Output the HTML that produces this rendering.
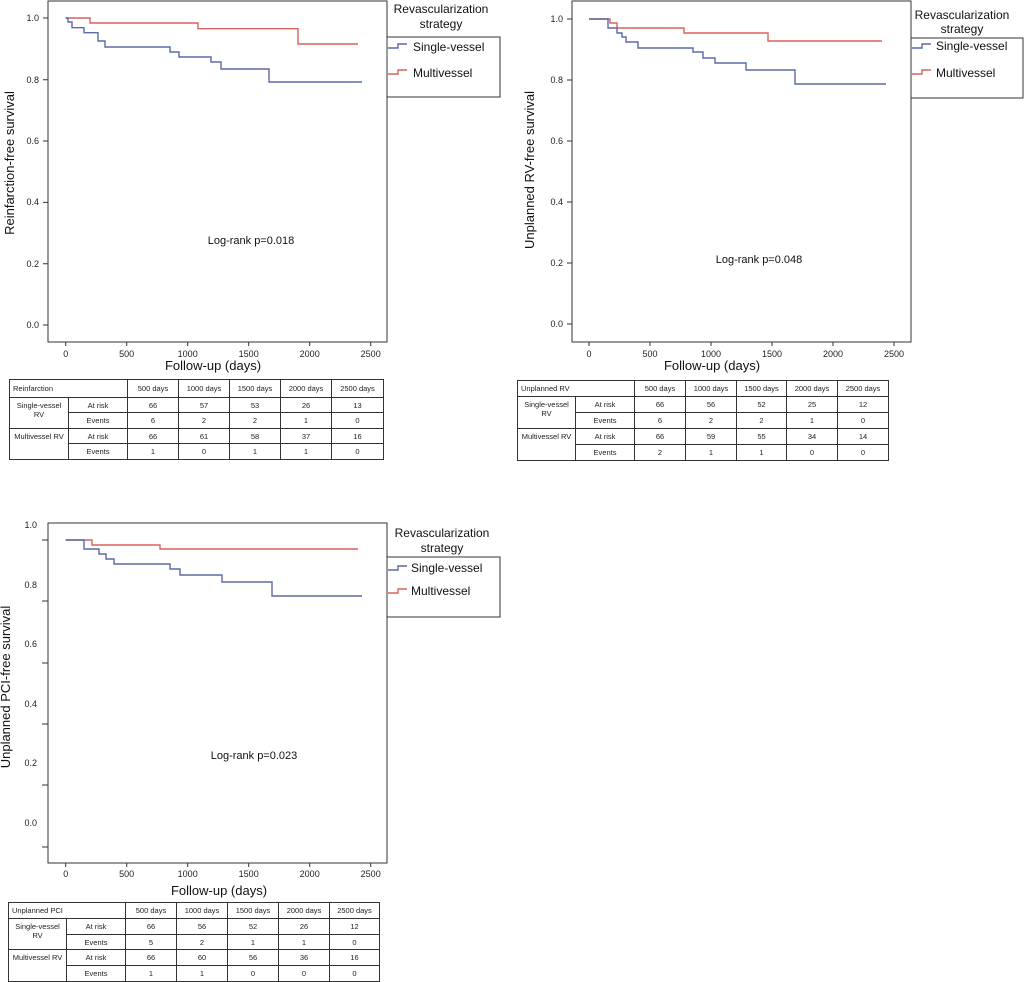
<!DOCTYPE html>
<html><head><meta charset="utf-8"><style>
body{margin:0;background:#fff;width:1024px;height:981px;overflow:hidden;position:relative;font-family:"Liberation Sans",Arial,sans-serif}
svg{position:absolute;left:0;top:0}
table{position:absolute;border-collapse:collapse;font-size:7.5px;color:#222;table-layout:fixed}
td{border:1px solid #333;text-align:center;padding:0;line-height:9px}
td.l{text-align:left;padding-left:3px}
td.t{vertical-align:top;padding-top:3px}
</style></head><body>
<svg width="1024" height="981" font-family="Liberation Sans, Arial, sans-serif">
<g fill="none" stroke="#333" stroke-width="1">
<!-- panel 1 -->
<rect x="48" y="1" width="339" height="341"/>
<path d="M43 18H48M43 79.7H48M43 141H48M43 202.4H48M43 263.7H48M43 325H48"/>
<path d="M65.7 342v4M126.7 342v4M187.7 342v4M248.7 342v4M309.7 342v4M370.7 342v4"/>
<rect x="387" y="37" width="113" height="60"/>
<!-- panel 2 -->
<rect x="572" y="1" width="339" height="341"/>
<path d="M567 19H572M567 80H572M567 141H572M567 202H572M567 263H572M567 324H572"/>
<path d="M589 342v4M650 342v4M711 342v4M772 342v4M833 342v4M894 342v4"/>
<rect x="911" y="38" width="112" height="60"/>
<!-- panel 3 -->
<rect x="48" y="523" width="339" height="340"/>
<path d="M42 540H48M42 601H48M42 663H48M42 724H48M42 785H48M42 847H48"/>
<path d="M65.7 863v4M126.7 863v4M187.7 863v4M248.7 863v4M309.7 863v4M370.7 863v4"/>
<rect x="387" y="557" width="113" height="60"/>
</g>
<g fill="none" stroke-width="1.4">
<path stroke="#d9625f" d="M65.7 18H90V23H198V28.7H298V44H358"/>
<path stroke="#5b6aa8" d="M65.7 18H68V22H72V27.7H84V32.7H98V41H105V47H170V52H179V57H211V62H221V69H269V82H362"/>
<path stroke="#5b6aa8" d="M388 48H398V44H407"/><path stroke="#d9625f" d="M388 74H398V70H407"/>

<path stroke="#d9625f" d="M589 19H610V23H617V28H684V33H768V41H882"/>
<path stroke="#5b6aa8" d="M589 19H608V28H617V33H622V37H626V42H638V48H693V52H703V58H715V63H746V70H795V84H886"/>
<path stroke="#5b6aa8" d="M912 48H922V44H931"/><path stroke="#d9625f" d="M912 74H922V70H931"/>

<path stroke="#d9625f" d="M65.7 540H92V545H160V549H358"/>
<path stroke="#5b6aa8" d="M65.7 540H84V549H99V554H106V559H114V564H170V569H180V575H222V582H272V596H362"/>
<path stroke="#5b6aa8" d="M388 570H398V566H407"/><path stroke="#d9625f" d="M388 593H398V589H407"/>
</g>
<g font-size="9" fill="#222" text-anchor="end">
<text x="39" y="21">1.0</text><text x="39" y="83">0.8</text><text x="39" y="144">0.6</text><text x="39" y="205">0.4</text><text x="39" y="267">0.2</text><text x="39" y="328">0.0</text>
<text x="563" y="22">1.0</text><text x="563" y="83">0.8</text><text x="563" y="144">0.6</text><text x="563" y="205">0.4</text><text x="563" y="266">0.2</text><text x="563" y="327">0.0</text>
<text x="37" y="528">1.0</text><text x="37" y="588">0.8</text><text x="37" y="647">0.6</text><text x="37" y="707">0.4</text><text x="37" y="766">0.2</text><text x="37" y="826">0.0</text>
</g>
<g font-size="9" fill="#222" text-anchor="middle">
<text x="65.7" y="357">0</text><text x="126.7" y="357">500</text><text x="187.7" y="357">1000</text><text x="248.7" y="357">1500</text><text x="309.7" y="357">2000</text><text x="370.7" y="357">2500</text>
<text x="589" y="357">0</text><text x="650" y="357">500</text><text x="711" y="357">1000</text><text x="772" y="357">1500</text><text x="833" y="357">2000</text><text x="894" y="357">2500</text>
<text x="65.7" y="877">0</text><text x="126.7" y="877">500</text><text x="187.7" y="877">1000</text><text x="248.7" y="877">1500</text><text x="309.7" y="877">2000</text><text x="370.7" y="877">2500</text>
</g>
<g font-size="13" fill="#111" text-anchor="middle">
<text x="213" y="370">Follow-up (days)</text>
<text x="712" y="370">Follow-up (days)</text>
<text x="219" y="895">Follow-up (days)</text>
<text transform="translate(14,163) rotate(-90)">Reinfarction-free survival</text>
<text transform="translate(534,170) rotate(-90)">Unplanned RV-free survival</text>
<text transform="translate(10,687) rotate(-90)">Unplanned PCI-free survival</text>
</g>
<g font-size="11" fill="#111" text-anchor="middle">
<text x="251" y="244">Log-rank p=0.018</text>
<text x="759" y="263">Log-rank p=0.048</text>
<text x="254" y="759">Log-rank p=0.023</text>
</g>
<g font-size="12" fill="#111">
<text x="441" y="13" text-anchor="middle">Revascularization</text><text x="441" y="28" text-anchor="middle">strategy</text>
<text x="413" y="51">Single-vessel</text><text x="413" y="77">Multivessel</text>
<text x="962" y="19" text-anchor="middle">Revascularization</text><text x="962" y="33" text-anchor="middle">strategy</text>
<text x="936" y="50">Single-vessel</text><text x="936" y="77">Multivessel</text>
<text x="442" y="537" text-anchor="middle">Revascularization</text><text x="442" y="552" text-anchor="middle">strategy</text>
<text x="411" y="572">Single-vessel</text><text x="411" y="595">Multivessel</text>
</g>
</svg>

<table style="left:9px;top:379px;width:374px">
<colgroup><col style="width:59px"><col style="width:59px"><col style="width:51px"><col style="width:51px"><col style="width:51px"><col style="width:51px"><col style="width:52px"></colgroup>
<tr style="height:18px"><td class="l" colspan="2">Reinfarction</td><td>500 days</td><td>1000 days</td><td>1500 days</td><td>2000 days</td><td>2500 days</td></tr>
<tr style="height:15px"><td rowspan="2" class="t">Single-vessel<br>RV</td><td>At risk</td><td>66</td><td>57</td><td>53</td><td>26</td><td>13</td></tr>
<tr style="height:16px"><td>Events</td><td>6</td><td>2</td><td>2</td><td>1</td><td>0</td></tr>
<tr style="height:15px"><td rowspan="2" class="t">Multivessel RV</td><td>At risk</td><td>66</td><td>61</td><td>58</td><td>37</td><td>16</td></tr>
<tr style="height:16px"><td>Events</td><td>1</td><td>0</td><td>1</td><td>1</td><td>0</td></tr>
</table>

<table style="left:517px;top:380px;width:371px">
<colgroup><col style="width:58px"><col style="width:59px"><col style="width:51px"><col style="width:51px"><col style="width:50px"><col style="width:51px"><col style="width:51px"></colgroup>
<tr style="height:16px"><td class="l" colspan="2">Unplanned RV</td><td>500 days</td><td>1000 days</td><td>1500 days</td><td>2000 days</td><td>2500 days</td></tr>
<tr style="height:16px"><td rowspan="2" class="t">Single-vessel<br>RV</td><td>At risk</td><td>66</td><td>56</td><td>52</td><td>25</td><td>12</td></tr>
<tr style="height:16px"><td>Events</td><td>6</td><td>2</td><td>2</td><td>1</td><td>0</td></tr>
<tr style="height:16px"><td rowspan="2" class="t">Multivessel RV</td><td>At risk</td><td>66</td><td>59</td><td>55</td><td>34</td><td>14</td></tr>
<tr style="height:16px"><td>Events</td><td>2</td><td>1</td><td>1</td><td>0</td><td>0</td></tr>
</table>

<table style="left:8px;top:902px;width:371px">
<colgroup><col style="width:58px"><col style="width:59px"><col style="width:51px"><col style="width:51px"><col style="width:51px"><col style="width:51px"><col style="width:50px"></colgroup>
<tr style="height:16px"><td class="l" colspan="2">Unplanned PCI</td><td>500 days</td><td>1000 days</td><td>1500 days</td><td>2000 days</td><td>2500 days</td></tr>
<tr style="height:16px"><td rowspan="2" class="t">Single-vessel<br>RV</td><td>At risk</td><td>66</td><td>56</td><td>52</td><td>26</td><td>12</td></tr>
<tr style="height:15px"><td>Events</td><td>5</td><td>2</td><td>1</td><td>1</td><td>0</td></tr>
<tr style="height:16px"><td rowspan="2" class="t">Multivessel RV</td><td>At risk</td><td>66</td><td>60</td><td>56</td><td>36</td><td>16</td></tr>
<tr style="height:16px"><td>Events</td><td>1</td><td>1</td><td>0</td><td>0</td><td>0</td></tr>
</table>
</body></html>
